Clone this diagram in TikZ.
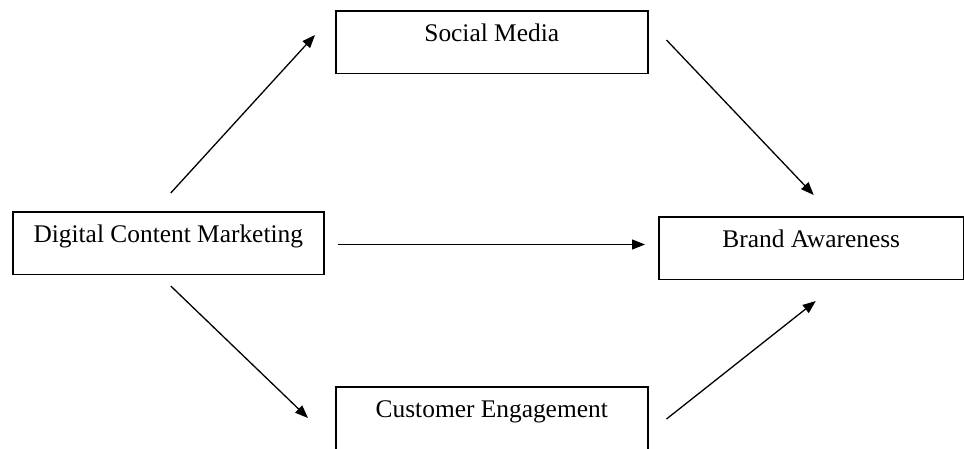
\documentclass[tikz,border=0pt]{standalone}
\usepackage{fontspec}
\setmainfont{Liberation Serif}
\usetikzlibrary{arrows.meta, calc}

\begin{document}
\begin{tikzpicture}[x=1pt, y=-1pt,
    box/.style={draw, line width=1.5pt, anchor=north west, inner sep=0pt,
        text height=31pt, text depth=31.5pt, font=\fontsize{25.4pt}{30pt}\selectfont},
    link/.style={line width=1.3pt, -{Triangle[length=13pt, width=10pt]}}]
    \useasboundingbox (0,0) rectangle (964,448);
    \clip (0,0) rectangle (964,448);
    % the four constructs
    \node [box, minimum width=311pt] (dcm) at (12,211) {Digital Content Marketing};
    \node [box, minimum width=312pt] (sm) at (335,10) {Social Media};
    \node [box, minimum width=312pt] (ce) at (335,386) {Customer Engagement};
    \node [box, minimum width=305pt] (ba) at (658,216) {Brand Awareness};
    % paths
    \draw [link] ($(dcm.north)+(2.5,-18)$) -- ($(sm.north west)+(-20,25)$);
    \draw [link] ($(sm.north east)+(18,30)$) -- ($(ba.north)+(2.5,-21)$);
    \coordinate (h) at ($(dcm.east)+(13,1.5)$);
    \draw [link] (h) -- ([xshift=-13pt]h -| ba.west);
    \draw [link] ($(dcm.south)+(2.5,11)$) -- ($(ce.north west)+(-27,32)$);
    \draw [link] ($(ce.north east)+(18,33)$) -- ($(ba.south)+(4.5,21)$);
\end{tikzpicture}
\end{document}
